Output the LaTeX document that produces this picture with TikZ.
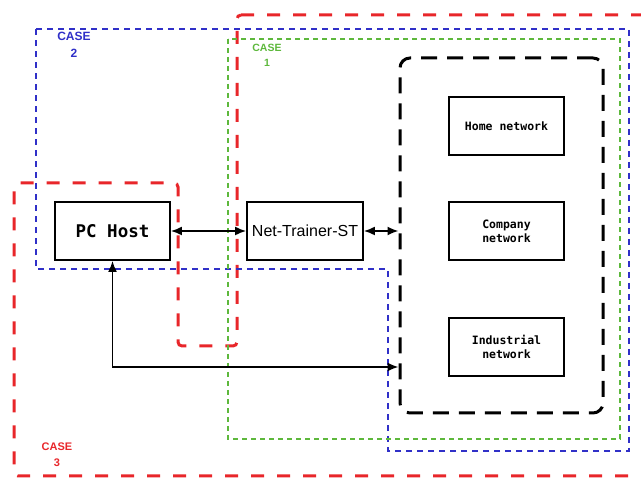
\documentclass[tikz,border=0pt]{standalone}
\usepackage{fontspec}
\setmainfont{Liberation Sans}
\newfontfamily\boxmono{DejaVu Sans Mono}
\usetikzlibrary{positioning, arrows.meta}

\definecolor{caseRed}{HTML}{E8262A}
\definecolor{caseBlue}{HTML}{3030C8}
\definecolor{caseGreen}{HTML}{5DB83C}

\tikzset{
  unitbox/.style={draw, line width=1.8pt, inner sep=0pt, align=center},
  netbox/.style={unitbox, minimum width=115pt, minimum height=58pt,
    font=\boxmono\bfseries\fontsize{11.5}{14}\selectfont},
  caseone/.style={draw=caseGreen, line width=1.1pt, dash pattern=on 5pt off 4pt},
  casetwo/.style={draw=caseBlue, line width=1.2pt, dash pattern=on 6pt off 5pt},
  casethree/.style={draw=caseRed, line width=3pt, dash pattern=on 13pt off 13pt,
    rounded corners=4pt},
  caselabel/.style={font=\bfseries\fontsize{11}{16}\selectfont, align=center},
  link/.style={{Latex[length=11pt,width=9pt]}-{Latex[length=11pt,width=9pt]},
    line width=1.8pt}
}

\begin{document}
\begin{tikzpicture}[x=1pt, y=-1pt]
  \useasboundingbox (0,0) rectangle (641,478);

  % the three test cases
  \draw[casethree] (237,15) -- (648,15) -- (648,476) -- (14,476) -- (14,183)
    -- (178,183) -- (178,346) -- (237,346) -- cycle;
  \draw[casetwo] (36,29) -- (629,29) -- (629,451) -- (388,451) -- (388,269)
    -- (36,269) -- cycle;
  \draw[caseone] (228,39) rectangle (620,439);

  \node[caselabel, text=caseBlue, font=\bfseries\fontsize{12}{17}\selectfont] (case2) at (74,45) {CASE\\2};
  \node[caselabel, text=caseGreen, font=\bfseries\fontsize{10.5}{15}\selectfont] (case1) at (267,55) {CASE\\1};
  \node[caselabel, text=caseRed] (case3) at (57,455) {CASE\\3};

  % devices
  \node[unitbox, minimum width=115pt, minimum height=58pt,
    font=\boxmono\bfseries\fontsize{17.5}{20}\selectfont] (pc) at (112.5,231) {PC Host};
  \node[unitbox, minimum width=116pt, minimum height=58pt,
    font=\fontsize{16}{20}\selectfont] (nts) at (305,231) {Net-Trainer-ST};

  % networks under test
  \node[draw, line width=3pt, dash pattern=on 16pt off 10pt, rounded corners=10pt,
    minimum width=203pt, minimum height=355pt] (netgroup) at (501.5,235.5) {};
  \node[netbox] (home) at (506.5,126) {Home network};
  \node[netbox] (company) at (506.5,231) {Company\\network};
  \node[netbox] (industrial) at (506.5,347) {Industrial\\network};

  % links
  \draw[link] (pc) -- (nts);
  \draw[link] (nts) -- (nts -| netgroup.west);
  \coordinate (turn) at (112.5,367);
  \draw[link] (pc.south) -- (turn) -- (turn -| netgroup.west);
\end{tikzpicture}
\end{document}
